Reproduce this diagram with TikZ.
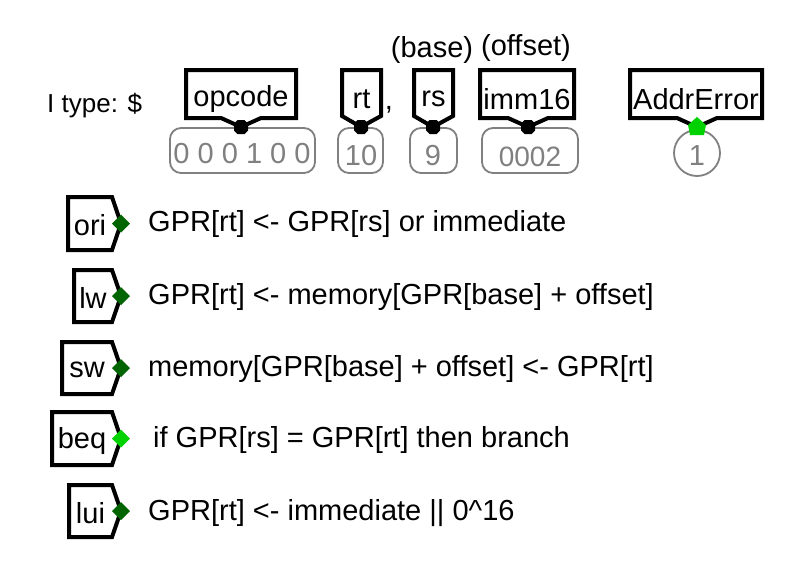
\documentclass[tikz,border=0pt]{standalone}
\usepackage{fontspec}
\setmainfont{Liberation Sans}
\definecolor{dkgreen}{RGB}{0,100,0}
\definecolor{ltgreen}{RGB}{0,210,0}
\definecolor{valgray}{RGB}{128,128,128}
\begin{document}
\begin{tikzpicture}[x=1pt,y=-1pt,
  tun/.style={line width=4pt,draw=black,fill=white,line join=miter},
  valbox/.style={draw=valgray,line width=1.8pt,rounded corners=11pt},
  lab/.style={font=\fontsize{29}{33}\selectfont,inner sep=0pt},
  vtxt/.style={font=\fontsize{29}{33}\selectfont,text=valgray,inner sep=0pt},
  txt/.style={font=\fontsize{29}{33}\selectfont,anchor=west,inner sep=0pt}]
\useasboundingbox (0,0) rectangle (787,576);
\fill[white] (0,0) rectangle (787,576);

% value boxes
\draw[valbox] (170,128) rectangle (315,173);
\node[vtxt] (v1) at (242,154) {0 0 0 1 0 0};
\draw[valbox] (338,128) rectangle (383,173);
\node[vtxt] (v2) at (361,156) {10};
\draw[valbox] (410,128) rectangle (457,173);
\node[vtxt] (v3) at (433,156) {9};
\draw[valbox] (482,128) rectangle (578,173);
\node[vtxt,font=\fontsize{28}{32}\selectfont] (v4) at (530,157) {0002};
\draw[valgray,line width=1.8pt] (697,153) circle (23);
\node[vtxt] (v5) at (697,156) {1};

% top tunnels (pointing down)
\newcommand{\dtun}[4]{% left, right, point x, text
  \draw[tun] (#1,70) -- (#2,70) -- (#2,118) -- ({#3+20},118) -- (#3,127) -- ({#3-20},118) -- (#1,118) -- cycle;
  \node[lab] at ({(#1+#2)/2},99) {#4};}
\newcommand{\ntun}[4]{% narrow: left, right, point x, text
  \draw[tun] (#1,70) -- (#2,70) -- (#2,116) -- (#3,127) -- (#1,116) -- cycle;
  \node[lab] at ({(#1+#2)/2},99) {#4};}
\dtun{186}{296}{241}{opcode}
\ntun{342}{381}{361}{rt}
\ntun{414}{453}{433}{rs}
\dtun{480}{574}{528}{imm16}
\dtun{630}{762}{697}{AddrError}

% dots at tunnel points
\foreach \px in {241,361,433,528}
  \fill[black] (\px,127) ++(-3.5,-7) -- ++(7,0) -- ++(3.5,3.5) -- ++(0,7) -- ++(-3.5,3.5) -- ++(-7,0) -- ++(-3.5,-3.5) -- ++(0,-7) -- cycle;
\fill[ltgreen] (697,117) -- (706,125) -- (704,135) -- (690,135) -- (688,125) -- cycle;

\node[lab] (comma) at (389,110) {,};
\node[lab] (base) at (432,50) {(base)};
\node[lab] (offs) at (526,48) {(offset)};
\node[lab,anchor=west,font=\fontsize{26}{30}\selectfont] (itype) at (47,106) {I type: \$};

% left tunnels (pointing right)
\newcommand{\rtun}[5]{% left, top, bottom, text, diamond colour
  \draw[tun] (#1,#2) -- (112,#2) -- (121,{(#2+#3)/2}) -- (112,#3) -- (#1,#3) -- cycle;
  \node[lab] at ({(#1+112)/2},{(#2+#3)/2+2}) {#4};
  \fill[#5] (112,{(#2+#3)/2}) -- (121,{(#2+#3)/2-9}) -- (130,{(#2+#3)/2}) -- (121,{(#2+#3)/2+9}) -- cycle;}
\rtun{68}{197}{250}{ori}{dkgreen}
\rtun{74}{270}{322}{lw}{dkgreen}
\rtun{62}{342}{394}{sw}{dkgreen}
\rtun{52}{412}{465}{beq}{ltgreen}
\rtun{69}{485}{537}{lui}{dkgreen}

\node[txt] (t1) at (148,224) {GPR[rt] <- GPR[rs] or immediate};
\node[txt] (t2) at (148,297) {GPR[rt] <- memory[GPR[base] + offset]};
\node[txt] (t3) at (148,369) {memory[GPR[base] + offset] <- GPR[rt]};
\node[txt] (t4) at (153,440) {if GPR[rs] = GPR[rt] then branch};
\node[txt] (t5) at (148,513) {GPR[rt] <- immediate || 0\^{}16};
\end{tikzpicture}
\end{document}
